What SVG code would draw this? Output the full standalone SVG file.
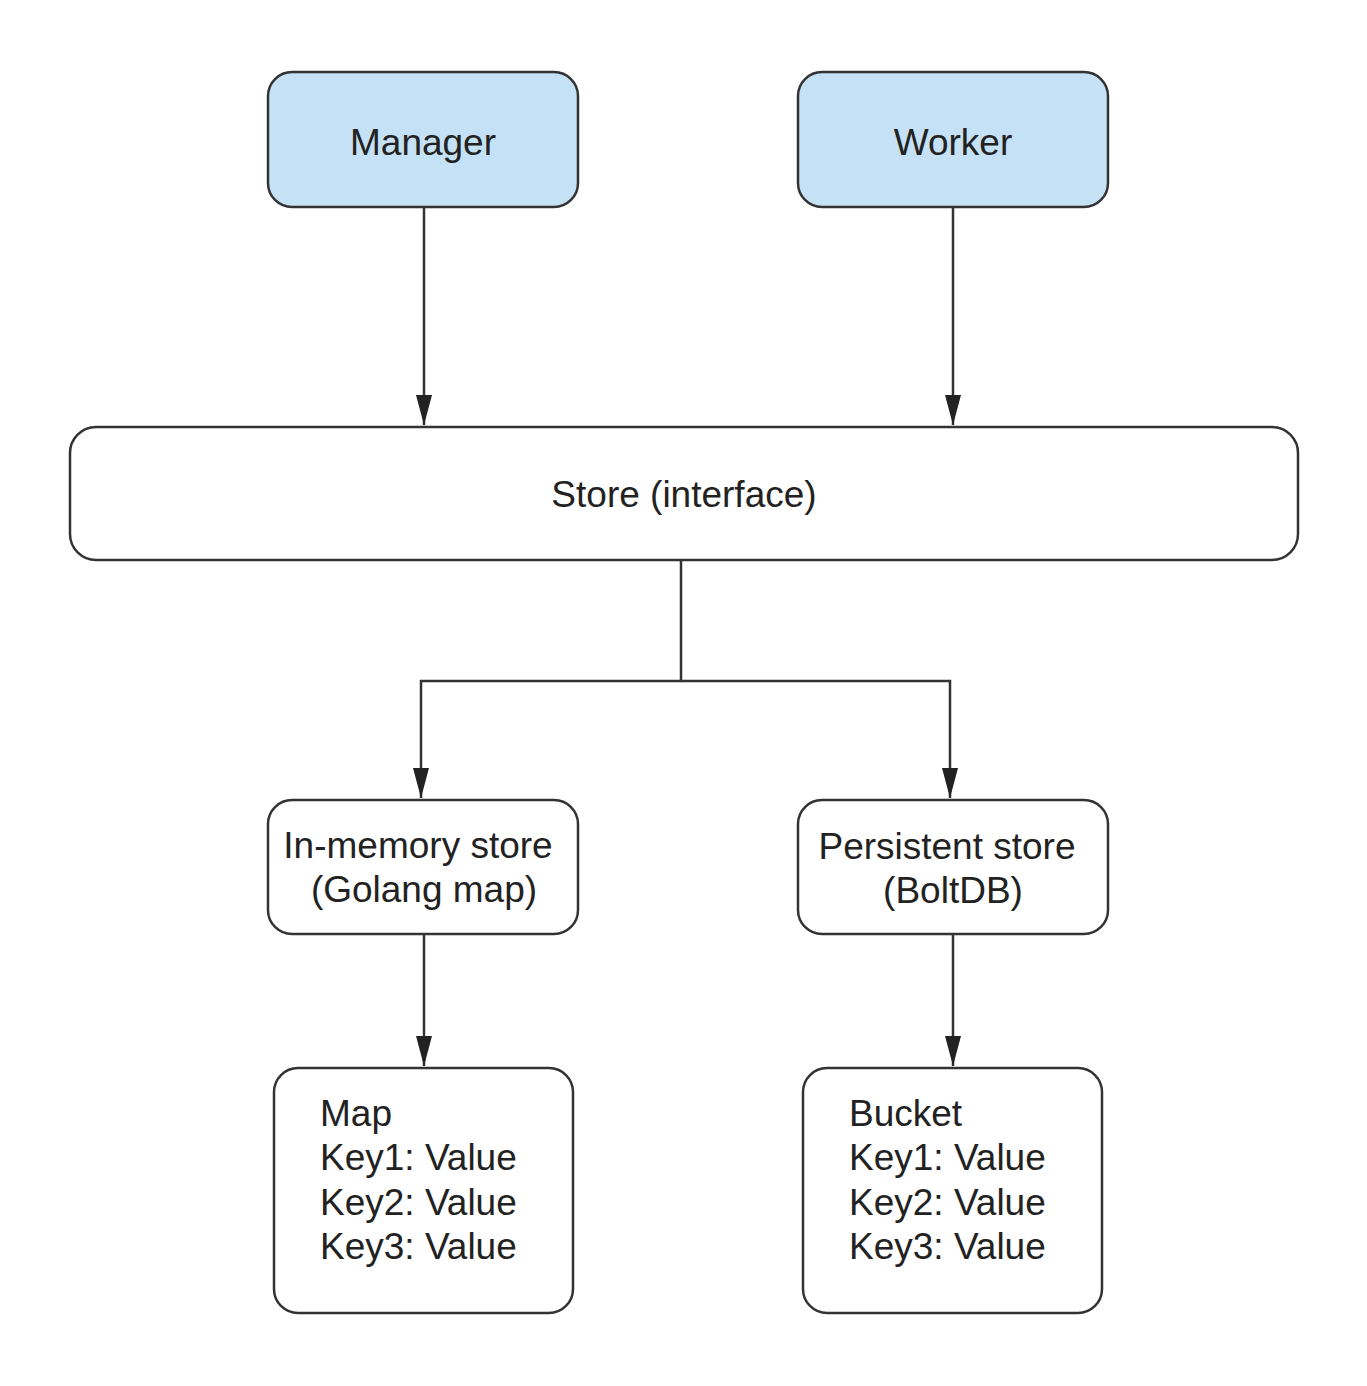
<svg xmlns="http://www.w3.org/2000/svg" width="1367" height="1386" viewBox="0 0 1367 1386">
<style>
.box{fill:#fff;stroke:#333;stroke-width:2.5}
.blue{fill:#c5e1f5}
.t{font-family:"Liberation Sans",Arial,sans-serif;font-size:37px;fill:#222}
.c{text-anchor:middle}
.ln{fill:none;stroke:#333;stroke-width:2.5}
</style>
<defs>
<marker id="ah" markerWidth="30" markerHeight="16" refX="30" refY="8" orient="auto" markerUnits="userSpaceOnUse" viewBox="0 0 30 16">
<path d="M0,0 L30,8 L0,16 Z" fill="#222"/>
</marker>
</defs>
<rect width="1367" height="1386" fill="#fff"/>
<g id="connectors">
<line class="ln" x1="424" y1="207" x2="424" y2="425" marker-end="url(#ah)"/>
<line class="ln" x1="953" y1="207" x2="953" y2="425" marker-end="url(#ah)"/>
<polyline class="ln" points="681,560 681,681 421,681 421,798" marker-end="url(#ah)"/>
<polyline class="ln" points="681,681 950,681 950,798" marker-end="url(#ah)"/>
<line class="ln" x1="424" y1="934" x2="424" y2="1066" marker-end="url(#ah)"/>
<line class="ln" x1="953" y1="934" x2="953" y2="1066" marker-end="url(#ah)"/>
</g>
<g id="manager">
<rect class="box blue" x="268" y="72" width="310" height="135" rx="24"/>
<text class="t c" x="423" y="155">Manager</text>
</g>
<g id="worker">
<rect class="box blue" x="798" y="72" width="310" height="135" rx="24"/>
<text class="t c" x="953" y="155">Worker</text>
</g>
<g id="store">
<rect class="box" x="70" y="427" width="1228" height="133" rx="26"/>
<text class="t c" x="684" y="507">Store (interface)</text>
</g>
<g id="inmemory">
<rect class="box" x="268" y="800" width="310" height="134" rx="24"/>
<text class="t c" x="418" y="858">In-memory store</text>
<text class="t c" x="424" y="902">(Golang map)</text>
</g>
<g id="persistent">
<rect class="box" x="798" y="800" width="310" height="134" rx="24"/>
<text class="t c" x="947" y="859">Persistent store</text>
<text class="t c" x="953" y="903">(BoltDB)</text>
</g>
<g id="map">
<rect class="box" x="274" y="1068" width="299" height="245" rx="24"/>
<text class="t" x="320" y="1126">Map</text>
<text class="t" x="320" y="1170">Key1: Value</text>
<text class="t" x="320" y="1215">Key2: Value</text>
<text class="t" x="320" y="1259">Key3: Value</text>
</g>
<g id="bucket">
<rect class="box" x="803" y="1068" width="299" height="245" rx="24"/>
<text class="t" x="849" y="1126">Bucket</text>
<text class="t" x="849" y="1170">Key1: Value</text>
<text class="t" x="849" y="1215">Key2: Value</text>
<text class="t" x="849" y="1259">Key3: Value</text>
</g>
</svg>
